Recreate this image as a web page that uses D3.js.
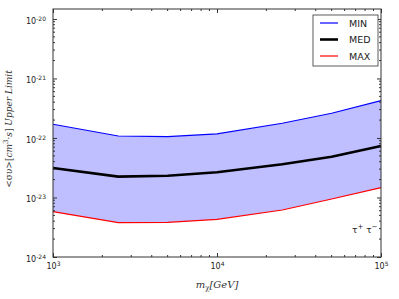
<!DOCTYPE html>
<meta charset="utf-8">
<style>
  body { margin: 0; background: #fff; }
  .tick text { font-family: "DejaVu Sans", sans-serif; font-size: 8px; fill: #222; }
  .axis path { display: none; }
  .axis line { stroke: #333; }
</style>
<body>
<script src="https://d3js.org/d3.v7.min.js"></script>
<script>

// mass points (GeV) and upper limits
var masses  = [1000, 2500, 5000, 10000, 25000, 50000, 100000];
var minVals = [1.70e-22, 1.08e-22, 1.05e-22, 1.17e-22, 1.77e-22, 2.60e-22, 4.24e-22];
var medVals = [3.13e-23, 2.24e-23, 2.32e-23, 2.65e-23, 3.61e-23, 4.85e-23, 7.34e-23];
var maxVals = [5.77e-24, 3.77e-24, 3.83e-24, 4.30e-24, 6.16e-24, 9.44e-24, 1.46e-23];

var xTicks = [1e3, 1e4, 1e5];
var yTicks = [1e-24, 1e-23, 1e-22, 1e-21, 1e-20];
var legendNames = ["MIN", "MED", "MAX"];

var margin = {top: 9, right: 18, bottom: 42, left: 53},
    width = 399 - margin.left - margin.right,
    height = 299 - margin.top - margin.bottom;

var x = d3.scaleLog().domain([1e3, 1e5]).range([0, width]);
var y = d3.scaleLog().domain([1e-24, 1.47e-20]).range([height, 0]);

var svg = d3.select("body").append("svg")
    .attr("width", 399)
    .attr("height", 299)
  .append("g")
    .attr("transform", "translate(" + margin.left + "," + margin.top + ")");

var data = masses.map(function(m, i) {
  return {m: m, min: minVals[i], med: medVals[i], max: maxVals[i]};
});

// shaded band between MIN and MAX
var band = d3.area()
    .x(function(d) { return x(d.m); })
    .y0(function(d) { return y(d.max); })
    .y1(function(d) { return y(d.min); });

svg.append("path")
    .datum(data)
    .attr("fill", "rgb(191,191,255)")
    .attr("d", band);

function line(key) {
  return d3.line()
      .x(function(d) { return x(d.m); })
      .y(function(d) { return y(d[key]); });
}

var styles = [
  {key: "min", color: "#0000ff", w: 1.2},
  {key: "med", color: "#000000", w: 2.6},
  {key: "max", color: "#ff0000", w: 1.2}
];

styles.forEach(function(s) {
  svg.append("path")
      .datum(data)
      .attr("fill", "none")
      .attr("stroke", s.color)
      .attr("stroke-width", s.w)
      .attr("d", line(s.key));
});

// minor ticks: 2..9 in every decade
function minors(scale) {
  return scale.ticks().filter(function(v) {
    var e = Math.log10(v);
    return Math.abs(e - Math.round(e)) > 1e-6;
  });
}

function powerLabel(sel) {
  sel.each(function(d) {
    var t = d3.select(this).text("");
    t.append("tspan").text("10");
    t.append("tspan").attr("dy", "-0.5em").style("font-size", "6px")
        .text(Math.round(Math.log10(d)));
  });
}

// bottom & top axes
var xb = svg.append("g").attr("class", "axis")
    .attr("transform", "translate(0," + height + ")")
    .call(d3.axisBottom(x).tickValues(xTicks).tickSizeInner(-4).tickPadding(6));
xb.selectAll(".tick text").call(powerLabel);
xb.selectAll(".minor").data(minors(x)).enter().append("line")
    .attr("x1", function(d) { return x(d); }).attr("x2", function(d) { return x(d); })
    .attr("y1", 0).attr("y2", -2).attr("stroke", "#333");

var xt = svg.append("g").attr("class", "axis")
    .call(d3.axisTop(x).tickValues(xTicks).tickSizeInner(-4).tickFormat(""));
xt.selectAll(".minor").data(minors(x)).enter().append("line")
    .attr("x1", function(d) { return x(d); }).attr("x2", function(d) { return x(d); })
    .attr("y1", 0).attr("y2", 2).attr("stroke", "#333");

// left & right axes
var yl = svg.append("g").attr("class", "axis")
    .call(d3.axisLeft(y).tickValues(yTicks).tickSizeInner(-4).tickPadding(7));
yl.selectAll(".tick text").call(powerLabel).attr("dy", "0.55em");
yl.selectAll(".minor").data(minors(y)).enter().append("line")
    .attr("y1", function(d) { return y(d); }).attr("y2", function(d) { return y(d); })
    .attr("x1", 0).attr("x2", 2).attr("stroke", "#333");

var yr = svg.append("g").attr("class", "axis")
    .attr("transform", "translate(" + width + ",0)")
    .call(d3.axisRight(y).tickValues(yTicks).tickSizeInner(-4).tickFormat(""));
yr.selectAll(".minor").data(minors(y)).enter().append("line")
    .attr("y1", function(d) { return y(d); }).attr("y2", function(d) { return y(d); })
    .attr("x1", 0).attr("x2", -2).attr("stroke", "#333");

// frame
svg.append("rect")
    .attr("width", width).attr("height", height)
    .attr("fill", "none").attr("stroke", "#333").attr("stroke-width", 1);

// axis titles
var xl = svg.append("text")
    .attr("x", x(1e4)).attr("y", height + 31)
    .attr("text-anchor", "middle")
    .style("font-family", "DejaVu Serif, serif").style("font-style", "italic")
    .style("font-size", "10px").attr("fill", "#333");
xl.append("tspan").text("m");
xl.append("tspan").attr("dy", "2").style("font-size", "7px").style("font-style", "normal").text("χ");
xl.append("tspan").attr("dy", "-2").text("[GeV]");

var yt = svg.append("text")
    .attr("transform", "translate(" + (-41) + "," + (height / 2 - 4) + ") rotate(-90)")
    .attr("text-anchor", "middle")
    .style("font-family", "DejaVu Serif, serif").style("font-style", "italic")
    .style("font-size", "9px").attr("fill", "#333");
yt.append("tspan").style("font-style", "normal").text("<σ");
yt.append("tspan").text("υ");
yt.append("tspan").style("font-style", "normal").text(">[");
yt.append("tspan").text("cm");
yt.append("tspan").attr("dy", "-4").style("font-size", "7px").style("font-style", "normal").text("3");
yt.append("tspan").attr("dy", "4").style("font-style", "normal").text("·");
yt.append("tspan").text("s");
yt.append("tspan").style("font-style", "normal").text("] ");
yt.append("tspan").text("Upper Limit");

// channel label
var ch = svg.append("text")
    .attr("x", width - 29).attr("y", y(1e-24) - 24)
    .style("font-family", "DejaVu Sans, sans-serif")
    .style("font-size", "9px").attr("fill", "#222");
ch.append("tspan").text("τ");
ch.append("tspan").attr("dy", "-4").style("font-size", "7px").text("+");
ch.append("tspan").attr("dy", "4").text(" τ");
ch.append("tspan").attr("dy", "-4").style("font-size", "7px").text("−");

// legend
var lg = svg.append("g").attr("transform", "translate(" + (width - 68) + ",6)");
lg.append("rect")
    .attr("width", 65).attr("height", 51)
    .attr("fill", "#fff").attr("stroke", "#333").attr("stroke-width", 0.8);
legendNames.forEach(function(name, i) {
  var s = styles[i];
  var gy = 8 + i * 16.5;
  lg.append("line")
      .attr("x1", 7).attr("x2", 25).attr("y1", gy).attr("y2", gy)
      .attr("stroke", s.color).attr("stroke-width", s.w);
  lg.append("text")
      .attr("x", 36).attr("y", gy + 3.5)
      .style("font-family", "DejaVu Sans, sans-serif")
      .style("font-size", "9.5px").attr("fill", "#222")
      .text(name);
});

</script>
</body>
